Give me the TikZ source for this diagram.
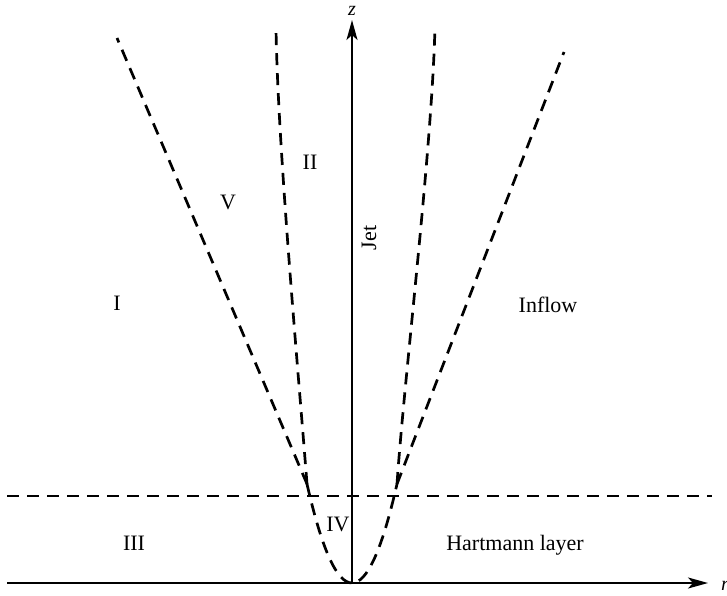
\documentclass[tikz,border=0pt]{standalone}
\usepackage{fontspec}
\setmainfont{Liberation Serif}
\usetikzlibrary{arrows.meta}
\begin{document}
\begin{tikzpicture}[x=1pt,y=-1pt,
  axis/.style={line width=2pt, -{Stealth[length=20pt,width=11pt,inset=5pt]}},
  bound/.style={line width=2.7pt, dash pattern=on 12pt off 8pt},
  lbl/.style={font=\fontsize{22}{26}\selectfont, inner sep=0pt},
  axlbl/.style={font=\fontsize{20}{24}\selectfont\itshape, inner sep=0pt}]
\useasboundingbox (0,0) rectangle (727,596);
% key points
\coordinate (O) at (352,583);
\coordinate (Ztip) at (352,20);
\coordinate (Rstart) at (7,583);
\coordinate (Rtip) at (708,583);
\coordinate (JL) at (307,484);
\coordinate (JR) at (397,484);
\coordinate (LO) at (117,38);
\coordinate (LI) at (276,29);
\coordinate (RI) at (435,26);
\coordinate (RO) at (564,52);
\coordinate (HL) at (7,496);
\coordinate (HR) at (712,496);
% boundaries
\draw[bound] (HL) -- (HR);
\draw[bound] (JL) .. controls (337,616) and (367,616) .. (JR);
\draw[bound] (JL) -- (LO);
\draw[bound] (JL) .. controls (299,380) and (278,150) .. (LI);
\draw[bound] (JR) .. controls (404,380) and (432,150) .. (RI);
\draw[bound] (JR) -- (RO);
% axes
\draw[axis] (O) -- (Ztip);
\draw[axis] (Rstart) -- (Rtip);
\node[axlbl] (zl) at (352,11) {z};
\node[axlbl, anchor=west] (rl) at (721,586) {r};
% labels
\node[lbl] (r1) at (117,303) {I};
\node[lbl] (r2) at (310,162) {II};
\node[lbl] (r5) at (228,202) {V};
\node[lbl, rotate=90] (jet) at (369,238) {Jet};
\node[lbl] (inflow) at (548,305) {Inflow};
\node[lbl] (r3) at (134,543) {III};
\node[lbl] (r4) at (338,524) {IV};
\node[lbl] (hart) at (515,545) {Hartmann layer};
\end{tikzpicture}
\end{document}
